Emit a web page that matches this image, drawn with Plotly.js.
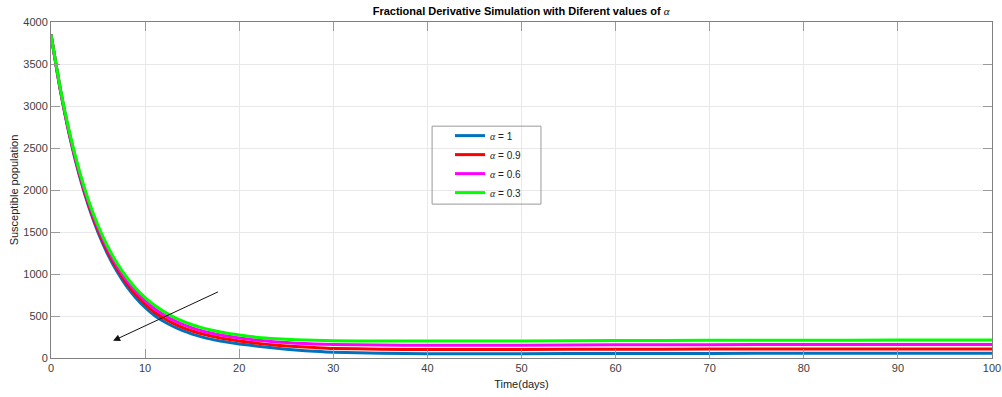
<!DOCTYPE html>
<html>
<head>
<meta charset="utf-8">
<script src="https://cdn.plot.ly/plotly-3.0.1.min.js"></script>
<style>
html,body{margin:0;padding:0;background:#fff;}
#chart{width:1002px;height:397px;}
</style>
</head>
<body>
<div id="chart"></div>
<script>
// Time (days)
const time = [0,1,2,3,4,5,6,7,8,9,10,11,12,13,14,15,16,17,18,19,20,22,24,26,28,30,35,40,45,50,60,70,80,90,100];
// Susceptible population for each alpha
const alpha1  = [3850,3181,2630,2176,1802,1494,1241,1032,859,718,601,505,435,375,325,285,252,225,203,184,168,140,115,95,80,68,57,52,51,52,54,55,56,56,56];
const alpha09 = [3850,3188,2644,2195,1825,1521,1271,1065,895,755,640,545,474,413,362,322,288,261,238,219,203,174,152,136,124,114,105,101,101,102,104,106,107,108,108];
const alpha06 = [3850,3196,2657,2214,1850,1550,1303,1099,931,794,680,587,513,451,401,359,325,297,274,255,239,210,191,177,168,160,154,152,152,153,157,159,161,161,162];
const alpha03 = [3850,3203,2671,2233,1873,1577,1333,1132,967,831,719,627,552,489,438,396,361,333,309,290,274,244,228,218,212,206,202,201,202,203,207,210,212,213,214];

const seriesNames = ['<i style="font-family:\'Liberation Serif\',serif">α</i> = 1',
                     '<i style="font-family:\'Liberation Serif\',serif">α</i> = 0.9',
                     '<i style="font-family:\'Liberation Serif\',serif">α</i> = 0.6',
                     '<i style="font-family:\'Liberation Serif\',serif">α</i> = 0.3'];
const seriesData = [alpha1, alpha09, alpha06, alpha03];
const seriesColors = ['#0072BD', '#FF0000', '#FF00FF', '#00FF00'];

const xTicks = [0,10,20,30,40,50,60,70,80,90,100];
const yTicks = [0,500,1000,1500,2000,2500,3000,3500,4000];

// arrow annotation (data coordinates)
const arrowTail = {x: 17.9, y: 795};
const arrowHead = {x: 6.6, y: 205};

const traces = seriesData.map((d, i) => ({
  x: time, y: d, type: 'scatter', mode: 'lines',
  name: seriesNames[i],
  legendgroup: 'g' + i,
  line: {color: seriesColors[i], width: 3, shape: 'spline', smoothing: 0.6}
}));

const axisCommon = {
  showline: true, linecolor: '#808080', linewidth: 1, mirror: 'ticks',
  ticks: 'inside', ticklen: 9, tickcolor: '#9a9a9a', tickwidth: 1,
  showgrid: true, gridcolor: '#e8e8e8', gridwidth: 1,
  zeroline: false,
  tickfont: {family: 'Liberation Sans, Arial, sans-serif', size: 11, color: '#404040'}
};

const layout = {
  width: 1002, height: 397,
  margin: {l: 51, r: 10, t: 22, b: 39},
  paper_bgcolor: '#fff', plot_bgcolor: '#fff',
  showlegend: true,
  title: {
    text: '<b>Fractional Derivative Simulation with Diferent values of </b><i style="font-family:\'Liberation Serif\',serif">α</i>',
    font: {family: 'Liberation Sans, Arial, sans-serif', size: 11, color: '#000'},
    x: 0.52, xanchor: 'center', y: 0.972, yanchor: 'middle'
  },
  xaxis: Object.assign({}, axisCommon, {
    range: [0, 100], tickvals: xTicks, ticktext: xTicks.map(String),
    title: {text: 'Time(days)', standoff: 7,
            font: {family: 'Liberation Sans, Arial, sans-serif', size: 11, color: '#222'}}
  }),
  yaxis: Object.assign({}, axisCommon, {
    range: [0, 4000], tickvals: yTicks, ticktext: yTicks.map(String),
    title: {text: 'Susceptible population', standoff: 2,
            font: {family: 'Liberation Sans, Arial, sans-serif', size: 11, color: '#222'}}
  }),
  legend: {
    x: 0.424, y: 0.705, xanchor: 'left', yanchor: 'top',
    bgcolor: 'rgba(0,0,0,0)', borderwidth: 0,
    traceorder: 'grouped', tracegroupgap: 0,
    font: {family: 'Liberation Sans, Arial, sans-serif', size: 10, color: '#222'}
  },
  shapes: [{
    type: 'rect', xref: 'paper', yref: 'paper',
    x0: 0.405, x1: 0.5207, y0: 0.458, y1: 0.690,
    line: {color: '#999', width: 1}, fillcolor: 'rgba(255,255,255,0)', layer: 'above'
  }],
  annotations: [{
    x: arrowHead.x, y: arrowHead.y, ax: arrowTail.x, ay: arrowTail.y,
    xref: 'x', yref: 'y', axref: 'x', ayref: 'y',
    text: '', showarrow: true, arrowhead: 2, arrowsize: 1.4, arrowwidth: 1, arrowcolor: '#111'
  }]
};

Plotly.newPlot('chart', traces, layout, {displayModeBar: false, staticPlot: true});
</script>
</body>
</html>
